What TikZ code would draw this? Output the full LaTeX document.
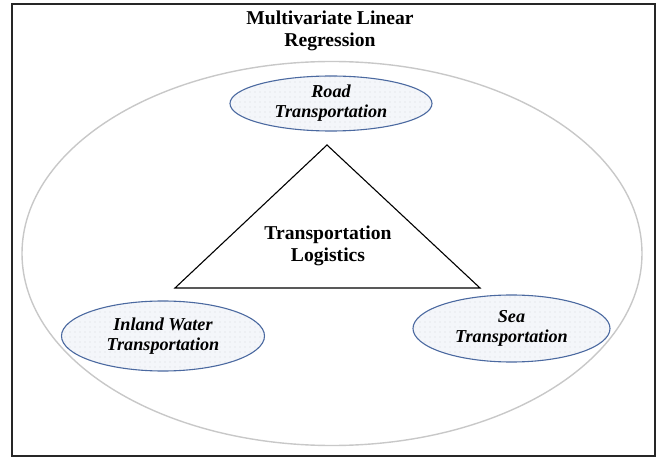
\documentclass[tikz,border=0pt]{standalone}
\usepackage{fontspec}
\setmainfont{Liberation Serif}
\usetikzlibrary{shapes.geometric,patterns.meta}
\definecolor{ellblue}{RGB}{75,105,160}
\definecolor{ellfill}{RGB}{244,246,250}
\definecolor{outergray}{RGB}{200,200,200}
\tikzset{
  transbox/.style={ellipse, draw=ellblue, line width=1.1pt, inner sep=0pt,
    preaction={fill=ellfill},
    pattern={Dots[distance=5pt, radius=0.45pt]}, pattern color=black!35,
    font=\fontsize{18.2}{20}\selectfont\bfseries\itshape, align=center},
  titletext/.style={font=\fontsize{19.6}{22}\selectfont\bfseries, align=center},
}
\begin{document}
\begin{tikzpicture}[x=1pt,y=-1pt]
\useasboundingbox (0,0) rectangle (659,457);
\draw[black!85, line width=1.2pt] (12,4) rectangle (655,456);
\draw[outergray, line width=1.4pt] (332,253.5) ellipse [x radius=310, y radius=192];
\node[titletext] (title) at (330,31) {Multivariate Linear\\Regression};
\coordinate (apex) at (327,145);
\coordinate (bl) at (175,288);
\coordinate (br) at (480,288);
\draw[black, line width=1.1pt, line join=miter] (apex) -- (bl) -- (br) -- cycle;
\node[titletext] (logi) at (328,246) {Transportation\\Logistics};
\node[transbox, minimum width=202pt, minimum height=55pt] (road) at (331,103.5) {Road\\Transportation};
\node[transbox, minimum width=203pt, minimum height=70pt] (inland) at (163,336) {Inland Water\\Transportation};
\node[transbox, minimum width=197pt, minimum height=67pt] (sea) at (511.5,328.5) {Sea\\Transportation};
\end{tikzpicture}
\end{document}
